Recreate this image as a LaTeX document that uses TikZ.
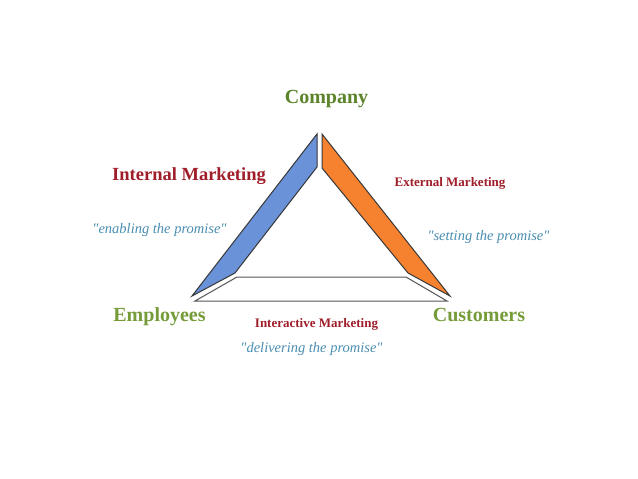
\documentclass[tikz,border=0pt]{standalone}
\usepackage{fontspec}
\setmainfont{Liberation Serif}
\definecolor{cgreen}{RGB}{92,132,42}
\definecolor{lgreen}{RGB}{118,156,58}
\definecolor{dred}{RGB}{160,30,42}
\definecolor{tblue}{RGB}{74,142,178}
\definecolor{bandblue}{RGB}{106,146,216}
\definecolor{bandorange}{RGB}{246,130,48}
\definecolor{edge}{RGB}{55,55,55}
\tikzset{
  band/.style={draw=edge, line width=1pt, line join=miter},
  party/.style={font=\fontsize{20}{22}\selectfont\bfseries, anchor=base, inner sep=0pt},
  mktbig/.style={font=\fontsize{18.5}{20}\selectfont\bfseries, text=dred, anchor=base, inner sep=0pt},
  mkt/.style={font=\fontsize{13}{15}\selectfont\bfseries, text=dred, anchor=base, inner sep=0pt},
  promise/.style={font=\fontsize{14.5}{16}\selectfont\itshape, text=tblue, anchor=base, inner sep=0pt}
}
\begin{document}
\begin{tikzpicture}[x=1pt,y=-1pt]
\useasboundingbox (0,0) rectangle (638,479);
\fill[white] (0,0) rectangle (638,479);
% bands
\filldraw[band, fill=bandblue] (317,134) -- (317,167) -- (235,273) -- (192,296) -- cycle;
\filldraw[band, fill=bandorange] (322,134) -- (322,168) -- (408,273) -- (450,296) -- cycle;
\filldraw[band, fill=white, draw=edge!85] (237,277) -- (406,277) -- (447,301) -- (195,301) -- cycle;
% labels
\node[party, text=cgreen] (company) at (326.5,103) {Company};
\node[party, text=lgreen] (employees) at (159.5,321) {Employees};
\node[party, text=lgreen] (customers) at (479,321) {Customers};
\node[mktbig] (internal) at (189,180) {Internal Marketing};
\node[promise] (enabling) at (159.5,233) {\textquotedbl enabling the promise\textquotedbl};
\node[mkt] (external) at (450,186) {External Marketing};
\node[promise] (setting) at (488.5,240) {\textquotedbl setting the promise\textquotedbl};
\node[mkt] (interactive) at (316.5,327) {Interactive Marketing};
\node[promise] (delivering) at (311.5,352) {\textquotedbl delivering the promise\textquotedbl};
\end{tikzpicture}
\end{document}
